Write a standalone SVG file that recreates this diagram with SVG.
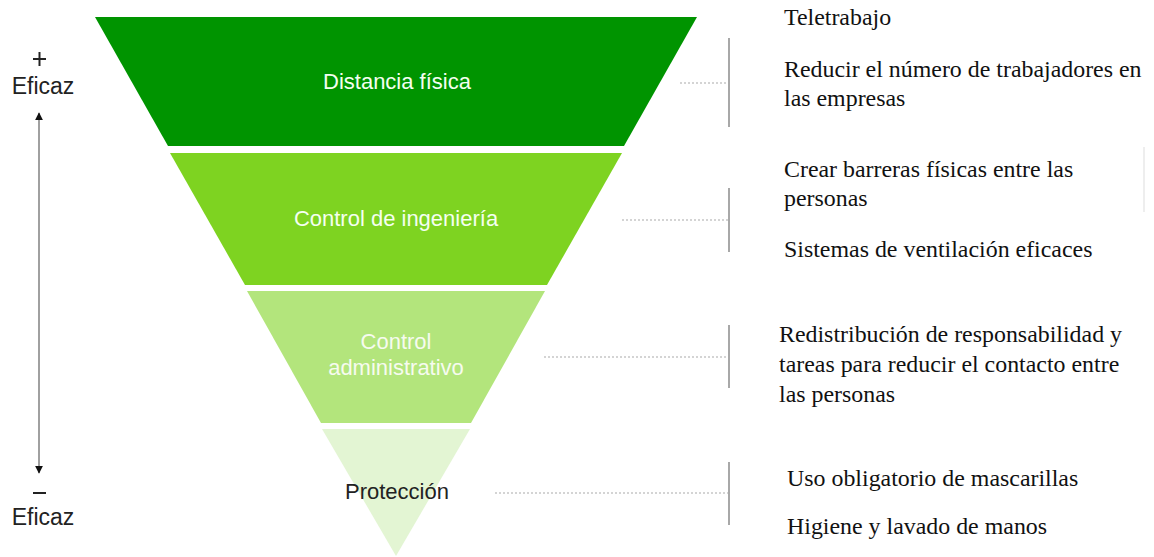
<svg xmlns="http://www.w3.org/2000/svg" width="1154" height="557" viewBox="0 0 1154 557">
<style>
.band-label{font-family:"Liberation Sans",Arial,sans-serif;font-size:22px;text-anchor:middle}
.side{font-family:"Liberation Sans",Arial,sans-serif;font-size:23px;fill:#222;text-anchor:middle}
.item{font-family:"Liberation Serif","Times New Roman",serif;font-size:23.9px;fill:#111}
.dot{stroke:#aaa;stroke-width:1.2;stroke-dasharray:2 2;fill:none}
.bar{stroke:#a8a8a8;stroke-width:2;fill:none}
</style>
<defs>
<marker id="ah" viewBox="0 0 10 10" refX="9" refY="5" markerWidth="8" markerHeight="8" markerUnits="userSpaceOnUse" orient="auto-start-reverse">
<path d="M0,0 L10,5 L0,10 z" fill="#111"/>
</marker>
</defs>
<rect width="1154" height="557" fill="#fff"/>
<g id="scale">
<line x1="33" y1="59" x2="46" y2="59" stroke="#222" stroke-width="2"/>
<line x1="39.5" y1="52" x2="39.5" y2="66" stroke="#222" stroke-width="2"/>
<text class="side" x="43" y="94">Eficaz</text>
<line x1="39" y1="113" x2="39" y2="473" stroke="#a0a0a0" stroke-width="2" marker-start="url(#ah)" marker-end="url(#ah)"/>
<line x1="33" y1="493" x2="46" y2="493" stroke="#222" stroke-width="2"/>
<text class="side" x="43" y="525">Eficaz</text>
</g>
<g id="distancia">
<polygon points="95,17 697,17 624,146 168,146" fill="#009400"/>
<text class="band-label" x="397" y="89" fill="#f4fff0">Distancia física</text>
</g>
<g id="ingenieria">
<polygon points="170,153 622,153 547,285 245,285" fill="#7ed321"/>
<text class="band-label" x="396" y="226" fill="#f4fff0">Control de ingeniería</text>
</g>
<g id="administrativo">
<polygon points="247,291 545,291 471,423 321,423" fill="#b3e57c"/>
<text class="band-label" x="396" y="349" fill="#f6fbef">Control</text>
<text class="band-label" x="396" y="375" fill="#f6fbef">administrativo</text>
</g>
<g id="proteccion">
<polygon points="322,429 470,429 396,556" fill="#e3f5d3"/>
<text class="band-label" x="397" y="499" fill="#222">Protección</text>
</g>
<g id="connectors">
<line class="dot" x1="680" y1="83" x2="728" y2="83"/>
<line class="bar" x1="729" y1="38" x2="729" y2="127"/>
<line class="dot" x1="622" y1="220" x2="728" y2="220"/>
<line class="bar" x1="729" y1="188" x2="729" y2="252"/>
<line class="dot" x1="544" y1="357" x2="728" y2="357"/>
<line class="bar" x1="729" y1="325" x2="729" y2="388"/>
<line class="dot" x1="495" y1="493" x2="728" y2="493"/>
<line class="bar" x1="729" y1="462" x2="729" y2="525"/>
<line x1="1144" y1="147" x2="1144" y2="212" stroke="#eeeeee" stroke-width="2"/>
</g>
<g id="items">
<text class="item" x="784" y="25">Teletrabajo</text>
<text class="item" x="784" y="77">Reducir el número de trabajadores en</text>
<text class="item" x="784" y="106">las empresas</text>
<text class="item" x="784" y="177">Crear barreras físicas entre las</text>
<text class="item" x="784" y="206">personas</text>
<text class="item" x="784" y="257">Sistemas de ventilación eficaces</text>
<text class="item" x="779" y="342">Redistribución de responsabilidad y</text>
<text class="item" x="779" y="372">tareas para reducir el contacto entre</text>
<text class="item" x="779" y="402">las personas</text>
<text class="item" x="787" y="486">Uso obligatorio de mascarillas</text>
<text class="item" x="787" y="534">Higiene y lavado de manos</text>
</g>
</svg>
